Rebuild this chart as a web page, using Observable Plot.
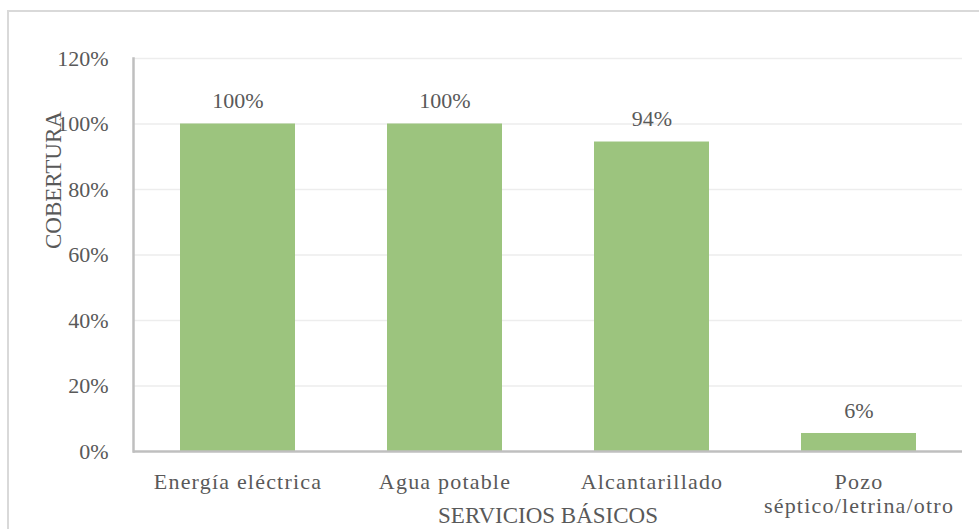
<!DOCTYPE html>
<html>
<head>
<meta charset="utf-8">
<script src="https://cdn.jsdelivr.net/npm/d3@7"></script>
<script src="https://cdn.jsdelivr.net/npm/@observablehq/plot@0.6"></script>
<style>
  html, body { margin: 0; padding: 0; background: #fff; overflow: hidden; width: 979px; height: 529px; }
  #wrap { position: relative; width: 979px; height: 529px; }
  #border { position: absolute; left: 7px; top: 10px; width: 1200px; height: 800px; border: 2px solid #d9d9d9; box-sizing: border-box; pointer-events: none; }
  #chart { position: absolute; left: 0; top: 0; }
  #chart svg, #chart svg text { font-family: "Liberation Serif", "Times New Roman", serif !important; }
  #chart svg g.xticks text { letter-spacing: 1.2px; }
</style>
</head>
<body>
<div id="wrap"><div id="chart"></div><div id="border"></div></div>
<script>
const categories = ["Energía eléctrica", "Agua potable", "Alcantarillado", "Pozo\nséptico/letrina/otro"];
const values = [1.0, 1.0, 0.945, 0.055];
const valueLabels = ["100%", "100%", "94%", "6%"];
const yTicks = [0, 0.2, 0.4, 0.6, 0.8, 1.0, 1.2];
const yTitle = "COBERTURA";
const xTitle = "SERVICIOS BÁSICOS";

const data = categories.map((c, i) => ({cat: c, val: values[i], label: valueLabels[i]}));
const textColor = "#595959";

const chart = Plot.plot({
  width: 979,
  height: 529,
  marginLeft: 133,
  marginRight: 17,
  marginTop: 58,
  marginBottom: 78,
  style: {fontSize: "22px", color: textColor, background: "transparent"},
  x: {domain: categories, paddingInner: 0.445, paddingOuter: 0.2225, label: null},
  y: {domain: [0, 1.2], label: null},
  marks: [
    Plot.gridY(yTicks.filter(d => d > 0), {stroke: "#ededed", strokeOpacity: 1, strokeWidth: 1.5}),
    Plot.barY(data, {x: "cat", y: "val", fill: "#9cc47e"}),
    Plot.ruleY([0], {stroke: "#bfbfbf", strokeWidth: 2.5}),
    Plot.frame({anchor: "left", stroke: "#bfbfbf", strokeWidth: 2.5}),
    Plot.axisY({ticks: yTicks, tickSize: 0, tickPadding: 25, tickFormat: d => Math.round(d * 100) + "%", fill: textColor, fontSize: 22, label: null}),
    Plot.axisX({tickSize: 0, tickPadding: 20, fill: textColor, fontSize: 22, lineHeight: 1.1, label: null, className: "xticks"}),
    Plot.text(data, {x: "cat", y: "val", text: "label", dy: -23, fill: textColor, fontSize: 22}),
    Plot.text([yTitle], {frameAnchor: "left", dx: -80, dy: -6, rotate: -90, fill: textColor, fontSize: 23}),
    Plot.text([xTitle], {frameAnchor: "bottom", dy: 71, fill: textColor, fontSize: 23})
  ]
});
document.getElementById("chart").appendChild(chart);
</script>
</body>
</html>
